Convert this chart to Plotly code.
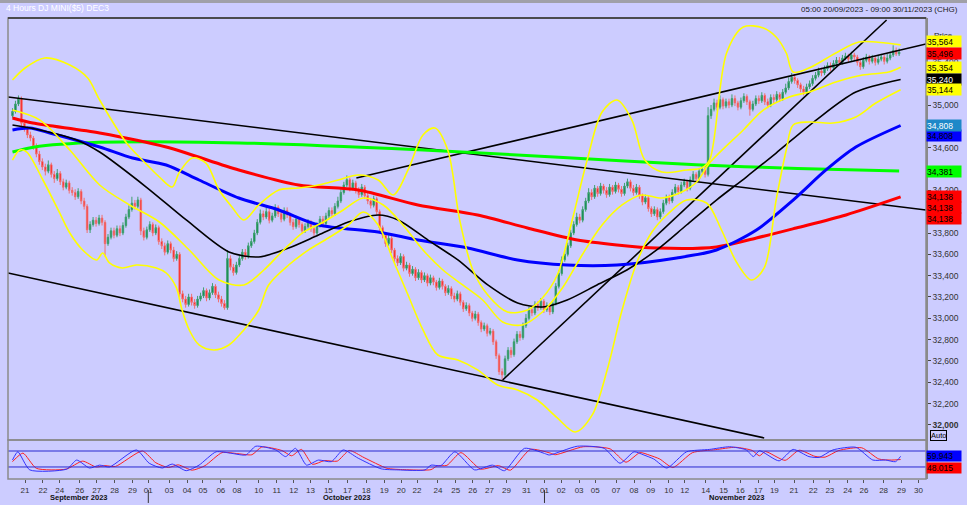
import plotly.graph_objects as go

FONT = "Liberation Sans, Arial, sans-serif"

# ---------------- candle data (4-hour bars) ----------------
closes = [34940, 35010, 35060, 34830, 34780, 34720, 34690, 34610, 34540, 34470,
          34420, 34380, 34440, 34350, 34310, 34360, 34280, 34230, 34270, 34200,
          34180, 34140, 34190, 34100, 34050, 33830, 33880, 33920, 33890, 33940,
          33900, 33700, 33760, 33820, 33780, 33840, 33800, 33870, 33950, 34020,
          34080, 34050, 34110, 33820, 33760, 33830, 33880, 33800, 33850, 33720,
          33680, 33620, 33700, 33640, 33560, 33600, 33230, 33180, 33130, 33200,
          33150, 33120, 33180, 33210, 33260, 33190, 33240, 33300, 33220, 33180,
          33140, 33100, 33560, 33480, 33430, 33500, 33560, 33620, 33580, 33680,
          33720, 33800, 33900, 33980, 33950, 34000, 33920, 33960, 34040, 33980,
          33930, 34010, 33970, 33900, 33860, 33930, 33880, 33820, 33860, 33900,
          33840, 33800, 33870, 33930, 33890, 33960, 34010, 33980, 34050, 34100,
          34180, 34250, 34300, 34220, 34270, 34200, 34160, 34230, 34150, 34100,
          34060, 34120, 34000, 33850, 33780, 33700, 33750, 33640, 33560, 33520,
          33580, 33470, 33500, 33420, 33460, 33380, 33430, 33360, 33400, 33330,
          33380, 33340, 33290, 33350, 33300, 33240, 33280, 33210, 33180, 33230,
          33150, 33090, 33120, 33050, 33000, 33040, 32960, 32900, 32930, 32860,
          32880, 32780, 32650, 32500, 32470, 32620, 32700, 32660, 32780, 32850,
          32820, 32930, 33000, 33080, 33050, 33130, 33100, 33160, 33080, 33120,
          33060, 33140, 33300, 33420, 33550, 33600, 33680, 33800, 33880, 33950,
          33920, 34020, 34100, 34180, 34140, 34220, 34170, 34240, 34200, 34160,
          34230, 34190, 34250, 34210, 34170, 34240, 34280, 34220, 34180, 34230,
          34150, 34090, 34130, 34030, 33980, 34020, 33950, 34000, 34080, 34130,
          34100, 34180, 34230, 34190, 34250, 34280, 34220, 34300, 34350, 34310,
          34380, 34400, 34350, 34900, 34960, 35020, 34980, 35050, 34990, 35030,
          35000, 35060, 35020, 34980, 35040, 35080, 35030, 34960, 35010, 35060,
          35040, 35090, 35030, 35000, 35070, 35050, 35100, 35060, 35120, 35160,
          35220, 35260, 35230, 35190, 35150, 35120, 35170, 35200, 35250, 35280,
          35320, 35300, 35340, 35370, 35350, 35390, 35420, 35400, 35440, 35460,
          35430, 35470, 35450, 35400, 35360, 35420, 35450, 35410, 35440, 35400,
          35430, 35450, 35410, 35440, 35470, 35510, 35480, 35496]

opens = [34900, 34940, 35010, 35060, 34830, 34780, 34720, 34690, 34610, 34540,
         34470, 34420, 34380, 34440, 34350, 34310, 34360, 34280, 34230, 34270,
         34200, 34180, 34140, 34190, 34100, 34050, 33830, 33880, 33920, 33890,
         33940, 33900, 33700, 33760, 33820, 33780, 33840, 33800, 33870, 33950,
         34020, 34080, 34050, 34110, 33820, 33760, 33830, 33880, 33800, 33850,
         33720, 33680, 33620, 33700, 33640, 33560, 33600, 33230, 33180, 33130,
         33200, 33150, 33120, 33180, 33210, 33260, 33190, 33240, 33300, 33220,
         33180, 33140, 33100, 33560, 33480, 33430, 33500, 33560, 33620, 33580,
         33680, 33720, 33800, 33900, 33980, 33950, 34000, 33920, 33960, 34040,
         33980, 33930, 34010, 33970, 33900, 33860, 33930, 33880, 33820, 33860,
         33900, 33840, 33800, 33870, 33930, 33890, 33960, 34010, 33980, 34050,
         34100, 34180, 34250, 34300, 34220, 34270, 34200, 34160, 34230, 34150,
         34100, 34060, 34120, 34000, 33850, 33780, 33700, 33750, 33640, 33560,
         33520, 33580, 33470, 33500, 33420, 33460, 33380, 33430, 33360, 33400,
         33330, 33380, 33340, 33290, 33350, 33300, 33240, 33280, 33210, 33180,
         33230, 33150, 33090, 33120, 33050, 33000, 33040, 32960, 32900, 32930,
         32860, 32880, 32780, 32650, 32500, 32470, 32620, 32700, 32660, 32780,
         32850, 32820, 32930, 33000, 33080, 33050, 33130, 33100, 33160, 33080,
         33120, 33060, 33140, 33300, 33420, 33550, 33600, 33680, 33800, 33880,
         33950, 33920, 34020, 34100, 34180, 34140, 34220, 34170, 34240, 34200,
         34160, 34230, 34190, 34250, 34210, 34170, 34240, 34280, 34220, 34180,
         34230, 34150, 34090, 34130, 34030, 33980, 34020, 33950, 34000, 34080,
         34130, 34100, 34180, 34230, 34190, 34250, 34280, 34220, 34300, 34350,
         34310, 34380, 34400, 34350, 34900, 34960, 35020, 34980, 35050, 34990,
         35030, 35000, 35060, 35020, 34980, 35040, 35080, 35030, 34960, 35010,
         35060, 35040, 35090, 35030, 35000, 35070, 35050, 35100, 35060, 35120,
         35160, 35220, 35260, 35230, 35190, 35150, 35120, 35170, 35200, 35250,
         35280, 35320, 35300, 35340, 35370, 35350, 35390, 35420, 35400, 35440,
         35460, 35430, 35470, 35450, 35400, 35360, 35420, 35450, 35410, 35440,
         35400, 35430, 35450, 35410, 35440, 35470, 35510, 35480]

highs = [34970, 35040, 35090, 35080, 34860, 34800, 34750, 34710, 34640, 34570,
         34500, 34450, 34480, 34460, 34380, 34400, 34380, 34310, 34300, 34290,
         34230, 34210, 34220, 34210, 34130, 34070, 33910, 33950, 33950, 33970,
         33970, 33920, 33790, 33850, 33850, 33870, 33870, 33900, 33980, 34060,
         34140, 34110, 34140, 34130, 33850, 33860, 33910, 33900, 33880, 33870,
         33750, 33710, 33730, 33720, 33670, 33630, 33620, 33260, 33210, 33230,
         33230, 33180, 33210, 33240, 33290, 33280, 33270, 33330, 33320, 33250,
         33210, 33170, 33640, 33590, 33510, 33530, 33590, 33650, 33650, 33710,
         33750, 33830, 33930, 34020, 34010, 34040, 34030, 33990, 34070, 34060,
         34000, 34040, 34040, 33990, 33930, 33960, 33950, 33900, 33890, 33930,
         33920, 33870, 33900, 33960, 33960, 33990, 34040, 34040, 34080, 34140,
         34210, 34280, 34340, 34320, 34300, 34290, 34230, 34260, 34250, 34180,
         34130, 34150, 34140, 34020, 33870, 33800, 33780, 33770, 33660, 33590,
         33610, 33600, 33530, 33520, 33490, 33480, 33460, 33450, 33430, 33420,
         33410, 33400, 33360, 33380, 33370, 33320, 33310, 33300, 33240, 33260,
         33250, 33170, 33150, 33140, 33070, 33070, 33060, 32980, 32960, 32950,
         32910, 32900, 32800, 32670, 32530, 32650, 32730, 32730, 32810, 32880,
         32880, 32960, 33040, 33110, 33110, 33160, 33160, 33190, 33180, 33150,
         33140, 33170, 33330, 33450, 33580, 33640, 33710, 33830, 33910, 33990,
         33980, 34050, 34130, 34220, 34210, 34250, 34240, 34270, 34260, 34230,
         34260, 34250, 34280, 34270, 34240, 34270, 34310, 34300, 34250, 34260,
         34250, 34170, 34160, 34150, 34050, 34050, 34040, 34030, 34110, 34160,
         34160, 34210, 34260, 34250, 34280, 34310, 34300, 34330, 34380, 34370,
         34410, 34440, 34420, 34980, 35000, 35060, 35050, 35090, 35070, 35060,
         35060, 35100, 35090, 35040, 35070, 35110, 35100, 35050, 35040, 35090,
         35090, 35120, 35110, 35060, 35100, 35100, 35130, 35120, 35150, 35200,
         35260, 35300, 35290, 35250, 35210, 35180, 35200, 35230, 35280, 35310,
         35350, 35350, 35370, 35400, 35400, 35420, 35450, 35450, 35470, 35490,
         35480, 35500, 35490, 35470, 35420, 35450, 35480, 35470, 35470, 35460,
         35460, 35480, 35470, 35480, 35500, 35560, 35540, 35530]

lows = [34880, 34920, 34990, 34800, 34750, 34690, 34660, 34580, 34510, 34440,
        34390, 34340, 34360, 34320, 34270, 34290, 34250, 34200, 34210, 34170,
        34150, 34110, 34120, 34070, 34020, 33800, 33800, 33860, 33860, 33870,
        33870, 33580, 33680, 33740, 33750, 33760, 33770, 33780, 33850, 33930,
        34000, 34020, 34030, 33780, 33730, 33740, 33810, 33770, 33780, 33690,
        33650, 33590, 33600, 33610, 33530, 33540, 33200, 33150, 33100, 33110,
        33120, 33090, 33100, 33160, 33190, 33160, 33170, 33220, 33190, 33150,
        33110, 33080, 33080, 33450, 33400, 33410, 33480, 33540, 33550, 33560,
        33660, 33700, 33780, 33880, 33920, 33930, 33890, 33900, 33940, 33950,
        33900, 33910, 33940, 33870, 33830, 33840, 33850, 33790, 33800, 33840,
        33810, 33770, 33780, 33850, 33860, 33870, 33940, 33950, 33960, 34030,
        34080, 34160, 34230, 34190, 34200, 34170, 34130, 34140, 34120, 34070,
        34030, 34040, 33970, 33820, 33750, 33670, 33680, 33610, 33530, 33490,
        33500, 33440, 33450, 33390, 33400, 33350, 33360, 33330, 33340, 33300,
        33310, 33310, 33260, 33270, 33270, 33210, 33220, 33180, 33150, 33160,
        33120, 33060, 33070, 33020, 32970, 32980, 32930, 32870, 32880, 32830,
        32840, 32750, 32620, 32470, 32420, 32450, 32600, 32630, 32640, 32760,
        32790, 32800, 32910, 32980, 33020, 33030, 33070, 33080, 33050, 33060,
        33030, 33040, 33120, 33280, 33400, 33530, 33580, 33660, 33780, 33860,
        33890, 33900, 34000, 34080, 34110, 34120, 34140, 34150, 34170, 34130,
        34140, 34160, 34170, 34180, 34140, 34150, 34220, 34190, 34150, 34160,
        34120, 34060, 34070, 34000, 33950, 33960, 33920, 33930, 33980, 34060,
        34070, 34080, 34160, 34160, 34170, 34230, 34190, 34200, 34280, 34280,
        34290, 34360, 34320, 34330, 34870, 34940, 34950, 34960, 34960, 34970,
        34970, 34980, 34990, 34950, 34960, 35020, 35000, 34900, 34940, 34990,
        35010, 35020, 35000, 34970, 34980, 35020, 35030, 35030, 35040, 35100,
        35140, 35200, 35200, 35160, 35120, 35090, 35100, 35150, 35180, 35230,
        35260, 35270, 35280, 35320, 35320, 35330, 35370, 35370, 35380, 35420,
        35400, 35410, 35420, 35370, 35330, 35340, 35400, 35380, 35390, 35370,
        35380, 35410, 35380, 35390, 35420, 35450, 35460, 35460]

bar_index = list(range(len(closes)))

# ---------------- moving averages / bands (bar index, price) ----------------
green_x = [0, 7, 29, 76, 136, 183, 229, 263, 297]
green_y = [34560, 34605, 34650, 34645, 34580, 34510, 34440, 34405, 34381]

blue_x = [0, 5.8, 12.5, 29.2, 40.2, 51.5, 62.5, 75.8, 89.2, 102.5, 122.5, 135.8,
          152.5, 169.2, 185.8, 202.5, 222.5, 235.8, 249.2, 261.5, 272.5, 282.5, 297.5]
blue_y = [34766, 34784, 34738, 34606, 34503, 34438, 34297, 34128, 34016, 33875, 33809, 33734,
          33659, 33547, 33500, 33500, 33566, 33641, 33828, 34109, 34391, 34606, 34808]

red_x = [0, 6.8, 29.2, 51.5, 75.8, 95.8, 115.8, 135.8, 155.8, 172.5, 189.2, 202.5,
         215.8, 235.8, 249.2, 262.5, 279.2, 297.5]
red_y = [34878, 34831, 34738, 34606, 34391, 34250, 34203, 34063, 33969, 33847, 33734, 33688,
         33659, 33669, 33753, 33847, 33969, 34138]

black_x = [0, 9.2, 21.5, 29.2, 44.8, 58.2, 72.5, 82.5, 92.5, 102.5, 112.5, 122.5, 129.2,
           139.2, 149.2, 159.2, 169.2, 177.5, 185.8, 195.8, 205.8, 215.8, 225.8, 235.8,
           245.8, 255.8, 269.2, 282.5, 297.5]
black_y = [34813, 34766, 34672, 34559, 34231, 33922, 33622, 33575, 33659, 33781, 33903, 33969, 33922,
           33734, 33547, 33313, 33144, 33106, 33172, 33313, 33453, 33641, 33875, 34109,
           34325, 34550, 34859, 35122, 35240]

bb_mid_x = [0, 9.2, 19.2, 29.2, 39.2, 49.2, 59.2, 69.2, 77.5, 84.2, 90.8, 97.5, 104.2, 110.8,
            117.5, 124.2, 130.8, 137.5, 144.2, 150.8, 157.5, 164.2, 170.8, 177.5, 184.2, 190.8,
            197.5, 204.2, 210.8, 217.5, 224.2, 229.2, 233.5, 244.8, 251.5, 260.2, 266.8, 275.8,
            284.8, 293.5, 297.5]
bb_mid_y = [34953, 34859, 34578, 34250, 34063, 33903, 33641, 33359, 33313, 33453, 33641, 33809,
            33903, 34016, 34128, 34063, 33875, 33641, 33453, 33313, 33172, 32966, 32938, 33059,
            33284, 33594, 33875, 34063, 34156, 34128, 34184, 34278, 34456, 34766, 34953, 35075,
            35122, 35216, 35281, 35309, 35354]

bb_up_x = [0, 4.2, 10.8, 19.2, 25.2, 29.2, 38.2, 43.5, 49.2, 53.5, 55.8, 60.2, 64.8, 69.2, 73.5,
           77.5, 82.5, 89.2, 95.8, 102.5, 109.2, 115.8, 122.5, 127.5, 132.5, 137.5, 141.5, 145.8,
           149.8, 154.2, 159.2, 165.8, 172.5, 177.5, 182.5, 187.5, 192.5, 197.5, 202.5, 207.5,
           211.8, 217.5, 225.8, 230.8, 233.5, 239.2, 244.8, 251.5, 255.8, 259.2, 261.5, 266.8,
           275.8, 283.5, 292.5, 297.5]
bb_up_y = [35234, 35347, 35441, 35375, 35253, 35047, 34644, 34484, 34325, 34231, 34363, 34503,
           34456, 34203, 34044, 33922, 34063, 34203, 34222, 34250, 34297, 34344, 34297, 34156,
           34391, 34719, 34784, 34578, 33922, 33453, 33219, 33059, 33078, 33191, 33406, 33922,
           34484, 34934, 35047, 34859, 34484, 34372, 34391, 34409, 34484, 35488, 35731, 35722,
           35638, 35488, 35309, 35347, 35488, 35591, 35581, 35564]

bb_lo_x = [0, 2.5, 4.8, 10.2, 15.8, 19.2, 23.5, 28.2, 30.2, 32.5, 36.8, 41.5, 48.2, 51.5, 54.8,
           56.8, 59.2, 62.5, 67.5, 72.5, 77.5, 82.5, 85.8, 92.5, 99.2, 105.8, 112.5, 117.5, 122.5,
           127.5, 132.5, 137.5, 142.5, 149.2, 155.8, 162.5, 169.2, 175.8, 182.5, 188.5, 194.2,
           199.2, 204.2, 209.2, 214.2, 219.2, 225.8, 232.5, 237.5, 242.5, 247.5, 251.8, 255.8,
           259.2, 261.5, 266.8, 274.8, 282.5, 289.2, 297.5]
bb_lo_y = [34484, 34578, 34559, 34297, 33988, 33800, 33641, 33547, 33613, 33519, 33472, 33500,
           33472, 33425, 33294, 33078, 32891, 32750, 32703, 32750, 32891, 33078, 33313, 33500,
           33641, 33753, 33875, 33997, 33875, 33547, 33219, 32891, 32656, 32609, 32516, 32375,
           32328, 32234, 32066, 31934, 32094, 32516, 33078, 33528, 33809, 33969, 34109, 34081,
           33828, 33528, 33359, 33472, 34109, 34578, 34813, 34841, 34831, 34888, 35019, 35144]

# ---------------- trend lines (bar index, price) ----------------
channel_top_x = [-1.5, 306]
channel_top_y = [35075, 34016]
channel_bot_x = [-1.5, 251.8]
channel_bot_y = [33425, 31878]
resist_x = [115.2, 306]
resist_y = [34316, 35572]
support_x = [164.2, 292.8]
support_y = [32422, 35797]

# ---------------- stochastic ----------------
stoch_k_x = [0, 1.8, 5.8, 18.2, 21.5, 25.8, 29.2, 32.5, 41.5, 45.8, 50.2, 53.5, 58.2, 62.5,
             68.2, 73.5, 78.2, 81.5, 88.2, 91.5, 94.8, 98.5, 102.5, 106.8, 110.8, 115.8, 123.5,
             129.2, 138.2, 140.2, 143.5, 148.2, 154.8, 160.8, 164.8, 171.5, 178.2, 179.8, 189.2,
             198.2, 203.5, 208.2, 211.5, 214.8, 219.2, 225.8, 233.5, 240.2, 245.8, 248.2, 250.2,
             256.8, 261.5, 266.8, 270.2, 274.8, 282.5, 288.2, 292.5, 295.8, 297.5]
stoch_k_y = [46, 77, 9, 12, 46, 16, 27, 20, 84, 34, 16, 31, 6, 27, 77, 71, 65, 98, 84, 59,
             90, 27, 46, 40, 84, 53, 13, 9, 9, 27, 25, 77, 9, 27, 6, 90, 71, 65, 98, 90,
             34, 77, 65, 50, 16, 77, 86, 96, 84, 59, 81, 43, 86, 59, 56, 84, 94, 46, 46, 40, 60]
stoch_d_x = [0, 3.5, 8, 18, 23.5, 28, 31, 34.5, 43.5, 48, 52.2, 55.5, 60.2, 64.5, 70.2, 75.5,
             80.2, 83.5, 90.2, 93.5, 96.8, 100.5, 104.5, 108.8, 112.8, 117.8, 125.5, 131.2, 140.2,
             142.2, 145.5, 150.2, 156.8, 162.8, 166.8, 173.5, 180.2, 181.8, 191.2, 200.2, 205.5,
             210.2, 213.5, 216.8, 221.2, 227.8, 235.5, 242.2, 247.8, 250.2, 252.2, 258.8, 263.5,
             268.8, 272.2, 276.8, 284.5, 290.2, 294.5, 297.5]
stoch_d_y = [40, 72, 15, 12, 42, 20, 25, 22, 80, 36, 18, 28, 8, 25, 74, 70, 66, 95, 82, 62,
             86, 30, 44, 42, 82, 55, 15, 10, 10, 24, 26, 74, 12, 25, 8, 86, 72, 66, 96, 88,
             38, 74, 64, 50, 18, 74, 85, 94, 82, 62, 78, 45, 83, 60, 57, 82, 92, 50, 46, 48]
stoch_levels = [80, 20]

# ---------------- axis labels ----------------
x_tick_pos = [4.2, 10.2, 15.8, 22.5, 28.2, 34.2, 40.2, 45.5, 52.5, 58.5, 63.8, 69.8, 75.2,
              82.5, 88.5, 94.2, 99.8, 105.8, 112.2, 118.5, 124.5, 130.2, 135.5, 142.5, 148.5,
              154.2, 159.8, 165.5, 172.2, 178.2, 183.8, 189.8, 195.2, 202.2, 208.2, 213.8,
              219.8, 225.2, 232.2, 238.2, 243.8, 249.8, 255.2, 261.8, 268.2, 273.8, 279.8,
              285.2, 291.8, 297.8, 303.5]
x_tick_text = ["21", "22", "24", "26", "27", "28", "29", "01", "03", "04", "05", "06", "08",
               "10", "11", "12", "13", "15", "17", "18", "19", "20", "22", "24", "25", "26",
               "27", "29", "31", "01", "02", "03", "05", "07", "08", "09", "10", "12", "14",
               "15", "16", "17", "19", "21", "22", "23", "24", "26", "28", "29", "30"]
month_pos = [22.2, 112.2, 242.5]
month_text = ["September 2023", "October 2023", "November 2023"]
month_breaks = [45.5, 178.2]

price_ticks = list(range(32000, 35601, 200))

# right-hand value markers: (value, background, text colour, pixel shift)
price_markers = [
    (35564, "#FFFF00", "#000000", 3),
    (35496, "#FF0000", "#000000", -1),
    (35354, "#FFFF00", "#000000", 0),
    (35240, "#000000", "#FFFFFF", 0),
    (35144, "#FFFF00", "#000000", 0),
    (34808, "#0000FF", "#000000", -10),
    (34808, "#1E88C8", "#FFFFFF", 0),
    (34381, "#00FF00", "#000000", 0),
    (34138, "#FF0000", "#000000", -22),
    (34138, "#FF0000", "#000000", -11),
    (34138, "#FF0000", "#000000", 0),
]
stoch_markers = [
    (59.943, "#0000FF", "#000000", 0),
    (48.015, "#FF0000", "#000000", -8),
]

# ---------------- build figure ----------------
fig = go.Figure()

for lx, ly in [(channel_top_x, channel_top_y), (channel_bot_x, channel_bot_y),
               (resist_x, resist_y), (support_x, support_y)]:
    fig.add_trace(go.Scatter(x=lx, y=ly, mode="lines", line=dict(color="#000000", width=1.6),
                             hoverinfo="skip", xaxis="x", yaxis="y"))

fig.add_trace(go.Scatter(x=green_x, y=green_y, mode="lines",
                         line=dict(color="#00FF00", width=3, shape="spline", smoothing=0.8),
                         hoverinfo="skip"))
fig.add_trace(go.Scatter(x=red_x, y=red_y, mode="lines",
                         line=dict(color="#FF0000", width=3, shape="spline", smoothing=0.8),
                         hoverinfo="skip"))
fig.add_trace(go.Scatter(x=blue_x, y=blue_y, mode="lines",
                         line=dict(color="#0000FF", width=3, shape="spline", smoothing=0.8),
                         hoverinfo="skip"))
fig.add_trace(go.Scatter(x=black_x, y=black_y, mode="lines",
                         line=dict(color="#000000", width=1.6, shape="spline", smoothing=0.8),
                         hoverinfo="skip"))

for bx, by in [(bb_up_x, bb_up_y), (bb_mid_x, bb_mid_y), (bb_lo_x, bb_lo_y)]:
    fig.add_trace(go.Scatter(x=bx, y=by, mode="lines",
                             line=dict(color="#FFFF00", width=1.6, shape="spline", smoothing=0.9),
                             hoverinfo="skip"))

fig.add_trace(go.Candlestick(
    x=bar_index, open=opens, high=highs, low=lows, close=closes,
    increasing=dict(line=dict(color="#3FA070", width=1), fillcolor="#00804A"),
    decreasing=dict(line=dict(color="#F07070", width=1), fillcolor="#FF0000"),
    whiskerwidth=0, hoverinfo="skip", xaxis="x", yaxis="y"))

fig.add_trace(go.Scatter(x=stoch_d_x, y=stoch_d_y, mode="lines", xaxis="x", yaxis="y2",
                         line=dict(color="#FF2020", width=1, shape="spline", smoothing=0.6),
                         hoverinfo="skip"))
fig.add_trace(go.Scatter(x=stoch_k_x, y=stoch_k_y, mode="lines", xaxis="x", yaxis="y2",
                         line=dict(color="#3333FF", width=1, shape="spline", smoothing=0.6),
                         hoverinfo="skip"))

shapes = []
for lvl in stoch_levels:
    shapes.append(dict(type="line", xref="paper", x0=0, x1=1, yref="y2", y0=lvl, y1=lvl,
                       line=dict(color="#2828D0", width=1)))
MAIN_BOTTOM = 0.0846
shapes.append(dict(type="rect", xref="paper", yref="paper", x0=0, x1=1, y0=MAIN_BOTTOM, y1=1,
                   line=dict(color="#8A8A8A", width=1.5)))
shapes.append(dict(type="line", xref="paper", yref="paper", x0=0, x1=1, y0=1, y1=1,
                   line=dict(color="#303030", width=1.5)))
shapes.append(dict(type="rect", xref="paper", yref="paper", x0=0, x1=1, y0=0, y1=MAIN_BOTTOM,
                   line=dict(color="#8A8A8A", width=1.5)))
shapes.append(dict(type="line", xref="paper", yref="paper", x0=-0.02, x1=1.05, y0=1.0358, y1=1.0358,
                   line=dict(color="#A0A0A8", width=3)))
for mb in month_breaks:
    shapes.append(dict(type="line", xref="x", yref="paper", x0=mb, x1=mb, y0=-0.024, y1=-0.052,
                       line=dict(color="#333333", width=1)))

annotations = []
annotations.append(dict(text="4 Hours DJ MINI($5) DEC3", xref="paper", yref="paper", x=0, y=1,
                        xanchor="left", yanchor="middle", xshift=-4, yshift=10, showarrow=False,
                        font=dict(family=FONT, size=8.5, color="#FFFFFF")))
annotations.append(dict(text="05:00 20/09/2023 - 09:00 30/11/2023 (CHG)", xref="paper", yref="paper",
                        x=1.0368, y=1, xanchor="right", yanchor="middle", yshift=9, showarrow=False,
                        font=dict(family=FONT, size=8, color="#202020")))
for mp, mt in zip(month_pos, month_text):
    annotations.append(dict(text="<b>" + mt + "</b>", xref="x", yref="paper", x=mp, y=0,
                            yanchor="middle", yshift=-18, showarrow=False,
                            font=dict(family=FONT, size=7.5, color="#111111")))
annotations.append(dict(text="Price", xref="paper", yref="paper", x=1, y=0.963, xanchor="left",
                        xshift=6, yanchor="middle", showarrow=False,
                        font=dict(family=FONT, size=8, color="#202020")))
for val, bg, fg, sh in price_markers:
    annotations.append(dict(text=f"{val:,}", xref="paper", yref="y", x=1, y=val, xanchor="left",
                            yanchor="middle", yshift=sh, showarrow=False, bgcolor=bg,
                            width=34, height=11, align="left", borderpad=0,
                            font=dict(family=FONT, size=8.5, color=fg)))
for val, bg, fg, sh in stoch_markers:
    annotations.append(dict(text=f"{val:.3f}", xref="paper", yref="y2", x=1, y=val, xanchor="left",
                            yanchor="middle", yshift=sh, showarrow=False, bgcolor=bg,
                            width=34, height=10, align="left", borderpad=0,
                            font=dict(family=FONT, size=8.5, color=fg)))
annotations.append(dict(text="Auto", xref="paper", yref="paper", x=1, y=0.0933, xanchor="left",
                        xshift=4, yanchor="middle", showarrow=False, bordercolor="#000000",
                        borderwidth=1, borderpad=0, font=dict(family=FONT, size=7.5, color="#000000")))

fig.update_layout(
    width=967, height=505,
    margin=dict(l=8, r=36, t=18, b=26),
    paper_bgcolor="#CCCCFF", plot_bgcolor="#CCCCFF",
    showlegend=False,
    font=dict(family=FONT, size=8, color="#222222"),
    xaxis=dict(range=[-1.5, 306], domain=[0, 1], anchor="y2",
               tickmode="array", tickvals=x_tick_pos, ticktext=x_tick_text,
               ticks="outside", ticklen=3, tickcolor="#555555",
               tickfont=dict(family=FONT, size=8, color="#333333"),
               showgrid=False, zeroline=False, showline=False,
               rangeslider=dict(visible=False)),
    yaxis=dict(domain=[MAIN_BOTTOM, 1], range=[31859, 35816], side="right", anchor="x",
               tickmode="array", tickvals=price_ticks,
               ticktext=[("<b>" + f"{v:,}" + "</b>") if v == 32000 else f"{v:,}" for v in price_ticks],
               ticks="outside", ticklen=3, tickcolor="#444444",
               tickfont=dict(family=FONT, size=8.5, color="#333333"),
               showgrid=False, zeroline=False, showline=True, linecolor="#8A8A8A", linewidth=1.5),
    yaxis2=dict(domain=[0, MAIN_BOTTOM], range=[-25.2, 121.4], side="right", anchor="x",
                showticklabels=False, ticks="", showgrid=False, zeroline=False,
                showline=True, linecolor="#8A8A8A", linewidth=1.5),
    shapes=shapes,
    annotations=annotations,
)

fig.write_html("out.html",
               config={"displayModeBar": False},
               post_script="document.body.style.margin='0';document.body.style.padding='0';"
                           "document.body.style.background='#CCCCFF';")
